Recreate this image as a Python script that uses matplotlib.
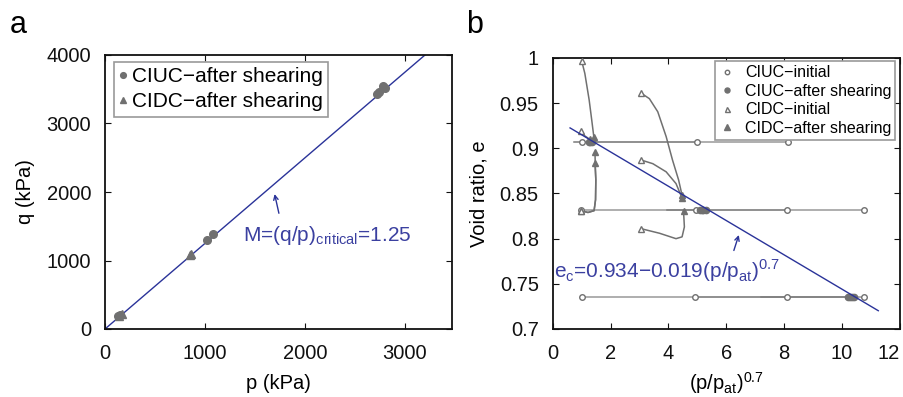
import matplotlib
matplotlib.use("Agg")
import matplotlib.pyplot as plt
import numpy as np

plt.rcParams['font.family'] = ['Liberation Sans', 'DejaVu Sans']
plt.rcParams['axes.unicode_minus'] = True

# ---------------- Panel a data ----------------
ciuc_p = [130, 150, 1025, 1085, 2720, 2740, 2775, 2795]
ciuc_q = [185, 200, 1305, 1385, 3430, 3460, 3545, 3515]
cidc_p = [140, 170, 850, 865]
cidc_q = [195, 225, 1075, 1095]
M_slope = 1.25
a_xticks = [0, 1000, 2000, 3000]
a_yticks = [0, 1000, 2000, 3000, 4000]

# ---------------- Panel b data ----------------
ciuc_e = [0.907, 0.907, 0.907, 0.832, 0.832, 0.832, 0.832, 0.735, 0.735, 0.735, 0.735]
ciuc_init = [1.02, 4.98, 8.12, 0.97, 4.95, 8.08, 10.77, 1.02, 4.93, 8.10, 10.77]
ciuc_min = [0.73, 1.25, 1.30, 0.97, 4.95, 3.95, 5.20, 1.02, 4.93, 7.20, 10.20]
ciuc_final = [1.25, 1.30, 1.35, 5.10, 5.15, 5.30, 5.20, 10.20, 10.28, 10.35, 10.40]

cidc_paths_x = [
    [1.00, 1.11, 1.26, 1.35, 1.42],
    [0.98, 1.10, 1.28],
    [0.97, 1.22, 1.43, 1.48, 1.49, 1.46],
    [0.97, 1.22, 1.43, 1.48, 1.49, 1.47, 1.46],
    [3.06, 3.34, 3.63, 3.92, 4.14, 4.35, 4.47],
    [3.06, 3.46, 3.92, 4.26, 4.47],
    [3.06, 3.69, 4.26, 4.47, 4.55, 4.52],
]
cidc_paths_e = [
    [0.997, 0.983, 0.9535, 0.931, 0.913],
    [0.919, 0.914, 0.910],
    [0.831, 0.829, 0.831, 0.843, 0.865, 0.884],
    [0.831, 0.829, 0.831, 0.843, 0.865, 0.884, 0.896],
    [0.961, 0.955, 0.9405, 0.913, 0.887, 0.865, 0.848],
    [0.887, 0.883, 0.874, 0.861, 0.845],
    [0.811, 0.806, 0.800, 0.802, 0.813, 0.831],
]
ec0, ec1 = 0.934, 0.019
fit_x = [0.6, 11.25]
b_xticks = [0, 2, 4, 6, 8, 10, 12]
b_yticks = [0.7, 0.75, 0.8, 0.85, 0.9, 0.95, 1.0]
b_yticklabels = ['0.7', '0.75', '0.8', '0.85', '0.9', '0.95', '1']

GRAY = '#707070'
LGRAY = '#808080'
BLUE = '#2a3399'
TBLUE = '#3b40a0'
FS = 14.5

fig = plt.figure(figsize=(9.04, 3.97), dpi=100)
W, H = 904, 397

def add_ax(x0, y0, x1, y1):
    return fig.add_axes([x0 / W, 1 - y1 / H, (x1 - x0) / W, (y1 - y0) / H])

def style(ax):
    ax.tick_params(direction='in', length=4, width=0.8, top=True, right=True,
                   labelsize=FS, colors='#111111')
    ax.tick_params(axis='y', pad=10)
    ax.tick_params(axis='x', pad=11)
    for s in ax.spines.values():
        s.set_linewidth(1.3)
        s.set_color('#111111')

# ---------------- Panel a ----------------
axa = add_ax(105, 55, 452, 329)
xl = np.array([0, 3470])
axa.plot(xl, M_slope * xl, color=BLUE, lw=1.0, zorder=2)
axa.plot(ciuc_p, ciuc_q, 'o', color=GRAY, ms=5.5, mec=GRAY, ls='none',
         label='CIUC\u2212after shearing', zorder=3)
axa.plot(cidc_p, cidc_q, '^', color=GRAY, ms=5.5, mec=GRAY, ls='none',
         label='CIDC\u2212after shearing', zorder=3)
axa.set_xlim(0, 3470)
axa.set_ylim(0, 4000)
axa.set_xticks(a_xticks)
axa.set_yticks(a_yticks)
style(axa)
axa.set_xlabel('p (kPa)', fontsize=FS, labelpad=8)
axa.set_ylabel('q (kPa)', fontsize=FS, labelpad=8)
leg = axa.legend(loc='upper left', bbox_to_anchor=(0.026, 0.975), fontsize=FS + 0.5,
                 frameon=True, fancybox=False, framealpha=1, edgecolor='#999999',
                 handlelength=0.35, handletextpad=0.25, borderpad=0.25,
                 labelspacing=0.3, borderaxespad=0, markerscale=0.75)
leg.get_frame().set_linewidth(1.2)
axa.annotate('', xy=(1690, 2010), xytext=(1745, 1650),
             arrowprops=dict(arrowstyle='->', color=BLUE, lw=1.0, mutation_scale=8))
axa.text(1383, 1290, r'M=(q/p)$_{\mathregular{critical}}$=1.25', color=TBLUE,
         fontsize=FS + 0.5, ha='left', va='baseline')
fig.text(10 / W, 1 - 33 / H, 'a', fontsize=22, ha='left', va='baseline')

# ---------------- Panel b ----------------
axb = add_ax(552.7, 58, 900, 329)
for e, xi, xm, xf in zip(ciuc_e, ciuc_init, ciuc_min, ciuc_final):
    axb.plot([xi, xm, xf], [e, e, e], color=LGRAY, lw=1.1, alpha=0.8, zorder=2)
for px, pe in zip(cidc_paths_x, cidc_paths_e):
    axb.plot(px, pe, color=GRAY, lw=1.1, zorder=2)
axb.plot(ciuc_init, ciuc_e, 'o', mfc='white', mec=GRAY, ms=4, mew=1.0, ls='none',
         label='CIUC\u2212initial', zorder=4)
axb.plot(ciuc_final, ciuc_e, 'o', color=GRAY, mec=GRAY, ms=4.5, ls='none',
         label='CIUC\u2212after shearing', zorder=4)
axb.plot([p[0] for p in cidc_paths_x], [p[0] for p in cidc_paths_e], '^', mfc='white',
         mec=GRAY, ms=4.5, mew=1.0, ls='none', label='CIDC\u2212initial', zorder=4)
axb.plot([p[-1] for p in cidc_paths_x], [p[-1] for p in cidc_paths_e], '^', color=GRAY,
         mec=GRAY, ms=5, ls='none', label='CIDC\u2212after shearing', zorder=4)
fx = np.array(fit_x)
axb.plot(fx, ec0 - ec1 * fx, color=BLUE, lw=1.0, zorder=5)
axb.set_xlim(0, 12)
axb.set_ylim(0.7, 1.0)
axb.set_xticks(b_xticks)
axb.set_yticks(b_yticks)
axb.set_yticklabels(b_yticklabels)
style(axb)
# keep last x tick label inside the figure
fig.canvas.draw()
lastlab = axb.get_xticklabels()[-1]
lastlab.set_horizontalalignment('right')
axb.set_xlabel(r'(p/p$_{\mathregular{at}}$)$^{\mathregular{0.7}}$', fontsize=FS, labelpad=5)
axb.set_ylabel('Void ratio, e', fontsize=FS, labelpad=8)
legb = axb.legend(loc='upper right', bbox_to_anchor=(0.987, 0.988), fontsize=11.5,
                  frameon=True, fancybox=False, framealpha=1, edgecolor='#999999',
                  handlelength=0.9, handletextpad=0.7, borderpad=0.25,
                  labelspacing=0.22, borderaxespad=0, markerscale=0.8)
legb.get_frame().set_linewidth(1.2)
axb.annotate('', xy=(6.46, 0.807), xytext=(6.23, 0.784),
             arrowprops=dict(arrowstyle='->', color=BLUE, lw=1.0, mutation_scale=8))
axb.text(0.05, 0.757, 'e$_{\\mathregular{c}}$=0.934\u22120.019(p/p$_{\\mathregular{at}}$)$^{\\mathregular{0.7}}$',
         color=TBLUE, fontsize=FS + 0.5, ha='left', va='baseline', zorder=6)
fig.text(466 / W, 1 - 33 / H, 'b', fontsize=22, ha='left', va='baseline')

fig.savefig('out.png', dpi=100)
